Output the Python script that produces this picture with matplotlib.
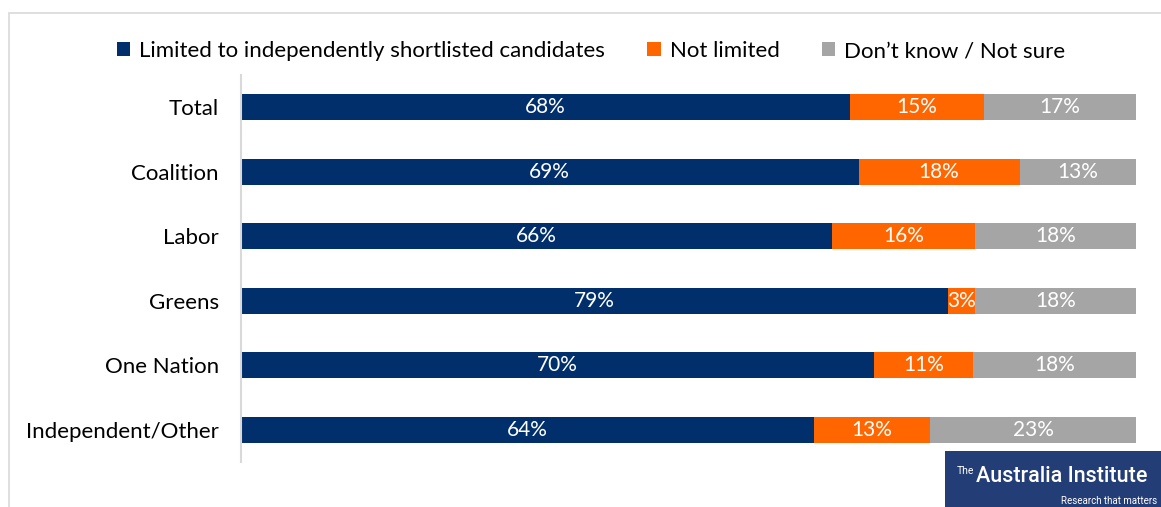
import numpy as np
import matplotlib.pyplot as plt
from matplotlib.patches import Rectangle

# Data
groups = ['Total', 'Coalition', 'Labor', 'Greens', 'One Nation', 'Independent/Other']
limited = [68, 69, 66, 79, 70, 64]
not_limited = [15, 18, 16, 3, 11, 13]
dont_know = [17, 13, 18, 18, 18, 23]
series_names = ['Limited to independently shortlisted candidates', 'Not limited', 'Don\u2019t know / Not sure']
colors = ['#002F6C', '#FF6600', '#A5A5A5']

plt.rcParams['font.family'] = ['Lato', 'DejaVu Sans']

fig = plt.figure(figsize=(11.61, 5.07), dpi=100)
ax = fig.add_axes([241/1161, 1 - 462/507, (1136-241)/1161, (462-75)/507])

data = np.array([limited, not_limited, dont_know], dtype=float)
totals = data.sum(axis=0)  # rounded shares don't always add to 100, bars fill the row

y = np.arange(len(groups))
left = np.zeros(len(groups))
for vals, name, col in zip(data, series_names, colors):
    widths = vals / totals * 100
    ax.barh(y, widths, left=left, height=0.4, color=col, label=name)
    for yi, l, w, v in zip(y, left, widths, vals):
        ax.text(l + w/2, yi, f'{int(v)}%', ha='center', va='center', color='white', fontsize=15)
    left += widths

ax.set_xlim(0, 100)
ax.set_ylim(len(groups) - 0.5, -0.5)
ax.set_yticks(y)
ax.set_yticklabels(groups, fontsize=16)
ax.tick_params(axis='y', length=0, pad=16)
ax.set_xticks([])
for s in ['top', 'right', 'bottom']:
    ax.spines[s].set_visible(False)
ax.spines['left'].set_color('#D9D9D9')
ax.spines['left'].set_linewidth(1.5)

leg = fig.legend(loc='center', bbox_to_anchor=(591/1161, 1 - 51/507), ncol=3, frameon=False,
                 fontsize=16, handlelength=0.6, handleheight=0.6, handletextpad=0.4, columnspacing=1.9)

# outer frame
fig.add_artist(Rectangle((9/1161, -0.1), 1.2, 1 - 13/507 + 0.1, transform=fig.transFigure,
                         fill=False, edgecolor='#D9D9D9', linewidth=1.2))

# logo
fig.add_artist(Rectangle((945/1161, 0), 216/1161, 56/507, transform=fig.transFigure,
                         facecolor='#233D76', edgecolor='none'))
fig.text(957/1161, 1 - 471/507, 'The', color='white', fontsize=7.5, ha='left', va='center',
         family=['Roboto', 'DejaVu Sans'])
fig.text(976/1161, 1 - 477/507, 'Australia Institute', color='white', fontsize=15.5, ha='left', va='center',
         family=['Roboto', 'DejaVu Sans'], fontweight='medium')
fig.text(1157/1161, 1 - 501/507, 'Research that matters', color='white', fontsize=7, ha='right', va='center',
         family=['Roboto', 'DejaVu Sans'])

fig.savefig('out.png', dpi=100)
